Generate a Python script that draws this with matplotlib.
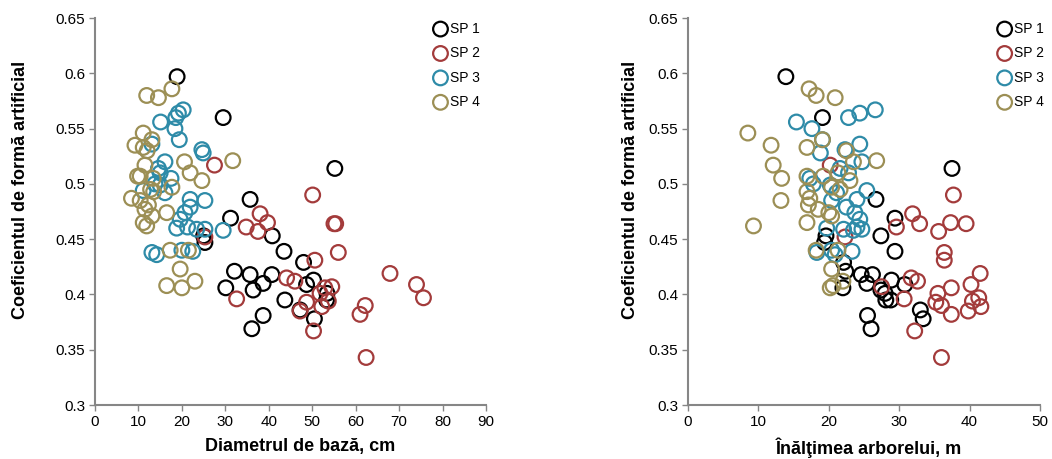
import numpy as np
import matplotlib
matplotlib.use("Agg")
import matplotlib.pyplot as plt
from matplotlib.ticker import FuncFormatter

plt.rcParams['font.family'] = ['Liberation Sans', 'DejaVu Sans']

# coeficient de forma (k), diametru (d, cm), inaltime (h, m) pe suprafete
sp1_k = [0.597, 0.560, 0.514, 0.486, 0.469, 0.453, 0.453, 0.447, 0.439, 0.429, 0.421, 0.418, 0.418,
         0.413, 0.410, 0.409, 0.406, 0.404, 0.401, 0.395, 0.395, 0.386, 0.381, 0.378, 0.369]
sp1_d = [18.9, 29.5, 55.2, 35.7, 31.2, 40.8, 25.0, 25.3, 43.5, 48.0, 32.1, 35.7, 40.7,
         50.3, 38.7, 48.7, 30.1, 36.4, 53.4, 43.7, 53.3, 47.2, 38.7, 50.5, 36.1]
sp1_h = [13.9, 19.1, 37.5, 26.7, 29.4, 27.4, 19.6, 19.4, 29.4, 22.1, 22.4, 24.6, 26.2,
         28.9, 25.4, 30.8, 22.0, 27.4, 28.0, 28.1, 28.8, 33.0, 25.5, 33.4, 26.0]

sp2_k = [0.517, 0.490, 0.473, 0.465, 0.464, 0.464, 0.461, 0.457, 0.452, 0.438, 0.431, 0.419, 0.415, 0.412,
         0.409, 0.407, 0.406, 0.401, 0.397, 0.396, 0.394, 0.393, 0.390, 0.389, 0.385, 0.382, 0.367, 0.343]
sp2_d = [27.5, 50.1, 38.0, 39.7, 55.0, 55.4, 34.8, 37.5, 25.3, 56.0, 50.6, 67.9, 44.1, 46.0,
         74.0, 54.5, 52.9, 51.8, 75.6, 32.6, 53.7, 48.7, 62.2, 52.2, 47.2, 61.0, 50.3, 62.4]
sp2_h = [20.2, 37.7, 31.9, 37.3, 32.9, 39.5, 29.6, 35.6, 22.3, 36.4, 36.4, 41.5, 31.7, 32.6,
         40.2, 27.5, 37.4, 35.5, 41.3, 30.7, 40.4, 35.2, 36.0, 41.6, 39.8, 37.4, 32.2, 36.0]

sp3_k = [0.567, 0.564, 0.560, 0.556, 0.550, 0.540, 0.536, 0.531, 0.528, 0.520, 0.514, 0.510, 0.505, 0.500,
         0.499, 0.494, 0.492, 0.486, 0.485, 0.479, 0.474, 0.468, 0.461, 0.460, 0.459, 0.459, 0.458,
         0.440, 0.439, 0.438, 0.436]
sp3_d = [20.3, 19.2, 18.6, 15.1, 18.4, 19.4, 13.1, 24.6, 24.9, 16.1, 14.6, 15.0, 17.5, 13.8,
         15.0, 11.1, 16.1, 21.9, 25.3, 21.9, 20.7, 19.6, 21.3, 18.8, 23.4, 25.3, 29.5,
         20.0, 22.5, 13.1, 14.2]
sp3_h = [26.6, 24.4, 22.8, 15.4, 17.6, 19.1, 24.4, 22.3, 18.8, 24.7, 21.6, 22.8, 17.3, 17.8,
         20.2, 25.4, 21.1, 24.0, 20.4, 22.5, 23.7, 24.4, 24.0, 19.7, 22.1, 24.7, 23.5,
         20.4, 23.3, 18.3, 20.9]

sp4_k = [0.586, 0.580, 0.578, 0.546, 0.540, 0.535, 0.533, 0.530, 0.521, 0.520, 0.517, 0.510, 0.507,
         0.507, 0.505, 0.503, 0.497, 0.495, 0.493, 0.487, 0.485, 0.481, 0.477, 0.474, 0.471, 0.465,
         0.462, 0.440, 0.440, 0.423, 0.412, 0.408, 0.406]
sp4_d = [17.7, 11.9, 14.6, 11.1, 13.1, 9.2, 11.1, 12.0, 31.7, 20.6, 11.5, 21.9, 10.4,
         9.8, 13.4, 24.6, 17.7, 12.8, 13.5, 8.4, 10.4, 12.3, 11.5, 16.5, 13.1, 11.1,
         11.9, 17.3, 21.5, 19.6, 23.0, 16.5, 20.0]
sp4_h = [17.2, 18.2, 20.9, 8.5, 19.1, 11.8, 16.9, 22.5, 26.8, 23.5, 12.1, 21.3, 16.9,
         19.2, 13.3, 23.0, 20.4, 21.6, 16.9, 17.3, 13.2, 17.1, 18.5, 20.0, 20.4, 16.9,
         9.3, 18.2, 21.3, 20.4, 22.0, 20.6, 20.2]

labels = ["SP 1", "SP 2", "SP 3", "SP 4"]
colors = ["#000000", "#a33b3b", "#2e8ba8", "#9c8f55"]
ks = [sp1_k, sp2_k, sp3_k, sp4_k]
ds = [sp1_d, sp2_d, sp3_d, sp4_d]
hs = [sp1_h, sp2_h, sp3_h, sp4_h]

fig = plt.figure(figsize=(10.52, 4.59), dpi=100)
ax1 = fig.add_axes([0.0903, 0.1176, 0.3717, 0.843])
ax2 = fig.add_axes([0.654, 0.1176, 0.3346, 0.843])

fmt = FuncFormatter(lambda v, p: "%g" % round(v, 2))

panels = [(ax1, ds, 90, "Diametrul de bază, cm", -0.17, 0.524, 0.848),
          (ax2, hs, 50, "Înălţimea arborelui, m", -0.14, 0.515, 0.86)]
for ax, xs, xmax, xlab, ylx, xlx, legx in panels:
    for x, k, c, lab in zip(xs, ks, colors, labels):
        ax.scatter(x, k, s=112, facecolors="none", edgecolors=c, linewidths=1.6, label=lab)
    ax.set_xlim(0, xmax)
    ax.set_ylim(0.3, 0.65)
    ax.set_xticks(np.arange(0, xmax + 1, 10))
    ax.set_yticks(np.arange(0.3, 0.651, 0.05))
    ax.yaxis.set_major_formatter(fmt)
    for s in ["top", "right"]:
        ax.spines[s].set_visible(False)
    for s in ["left", "bottom"]:
        ax.spines[s].set_color("#868686")
        ax.spines[s].set_linewidth(1.5)
    ax.tick_params(direction="out", length=4, width=1, color="#868686", labelsize=11, pad=3)
    ax.set_xlabel(xlab, fontsize=13, fontweight="bold")
    ax.xaxis.set_label_coords(xlx, -0.085)
    ax.set_ylabel("Coeficientul de formă artificial", fontsize=13, fontweight="bold")
    ax.yaxis.set_label_coords(ylx, 0.555)
    ax.legend(loc="upper left", bbox_to_anchor=(legx, 1.005), frameon=False, fontsize=10,
              handletextpad=0.1, labelspacing=0.75, borderaxespad=0, handlelength=1.2)

fig.savefig("out.png", dpi=100)
